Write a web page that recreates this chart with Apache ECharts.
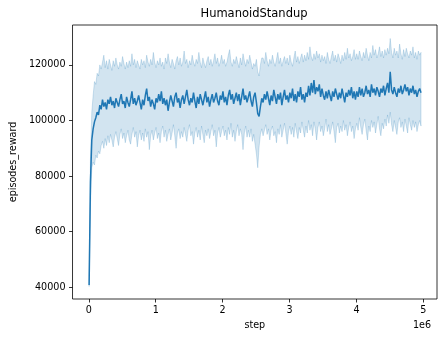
<!DOCTYPE html>
<html>
<head>
<meta charset="utf-8">
<script src="https://cdn.jsdelivr.net/npm/echarts@6/dist/echarts.min.js"></script>
<style>html,body{margin:0;padding:0;background:#fff}#c{width:441px;height:337px}</style>
</head>
<body>
<div id="c"></div>
<script>
// Sampling grid of logged steps
const STEP_START = 5000;
const STEP_SIZE = 20000;
const UNIT = 1000; // values below are in thousands of reward
const meanRewardK = [
40.8, 78.0, 93.0, 97.0, 99.5, 101.0, 103.0, 102.0, 105.5, 104.0,
107.5, 105.0, 106.5, 104.0, 107.5, 106.0, 108.5, 105.5, 107.0, 104.5,
108.0, 106.5, 105.0, 107.5, 109.5, 106.0, 107.0, 104.5, 108.5, 106.5,
105.0, 107.5, 110.5, 106.0, 108.0, 105.5, 107.0, 109.0, 106.5, 104.0,
107.5, 105.5, 109.0, 111.5, 107.0, 108.5, 105.0, 107.5, 106.0, 104.0,
108.0, 106.5, 109.5, 107.0, 110.5, 106.0, 108.0, 105.5, 107.5, 103.5,
106.5, 109.0, 107.0, 105.0, 108.5, 110.0, 106.5, 108.0, 104.5, 107.5,
109.0, 106.0, 108.5, 111.0, 107.5, 105.5, 108.0, 106.5, 110.0, 107.0,
104.5, 108.5, 106.0, 109.5, 107.5, 105.5, 108.0, 110.5, 106.5, 108.5,
105.0, 107.5, 109.5, 106.5, 108.0, 110.0, 107.0, 105.5, 109.0, 107.5,
110.5, 106.5, 108.5, 105.5, 109.0, 111.0, 107.5, 109.5, 106.0, 108.0,
110.0, 107.0, 109.5, 105.5, 108.5, 111.5, 107.5, 109.0, 106.5, 108.5,
110.5, 107.0, 105.0, 108.5, 110.0, 106.5, 102.5, 101.5, 105.0, 108.0,
106.5, 109.5, 107.5, 110.5, 108.0, 105.5, 109.0, 107.0, 111.0, 108.5,
106.0, 109.5, 107.5, 110.0, 105.5, 108.5, 111.0, 107.5, 109.0, 106.5,
110.0, 108.0, 111.5, 107.0, 109.5, 106.5, 110.5, 108.5, 112.0, 107.5,
109.5, 106.5, 110.0, 108.5, 112.5, 109.0, 113.5, 110.0, 114.5, 109.5,
112.0, 110.5, 113.0, 108.5, 111.5, 109.0, 107.5, 110.5, 108.0, 111.0,
109.0, 107.0, 110.5, 108.5, 111.5, 109.5, 107.5, 110.0, 108.0, 111.5,
109.0, 106.5, 110.0, 108.5, 111.0, 109.0, 112.0, 108.0, 110.5, 107.5,
110.5, 108.5, 112.0, 109.0, 111.5, 108.5, 110.0, 112.5, 109.5, 111.0,
108.5, 113.0, 110.0, 111.5, 109.0, 112.0, 110.5, 108.5, 111.5, 110.0,
112.5, 109.0, 111.5, 113.5, 110.0, 117.5, 111.0, 109.5, 112.0, 110.0,
108.5, 111.5, 110.0, 112.5, 109.5, 111.0, 113.0, 110.5, 112.0, 109.0,
111.5, 110.0, 112.5, 109.5, 111.0, 108.5, 110.5, 111.5, 110.0];
const upperRewardK = [
41.5, 86.0, 103.0, 109.0, 114.0, 113.0, 117.0, 116.0, 120.0, 118.5,
121.0, 123.5, 119.0, 121.5, 118.5, 122.0, 120.0, 118.0, 121.5, 119.5,
122.5, 120.0, 118.5, 121.0, 119.5, 123.0, 120.5, 118.5, 121.0, 119.0,
121.5, 119.5, 124.0, 120.0, 122.0, 119.0, 121.5, 120.0, 118.5, 122.0,
120.0, 121.5, 119.0, 123.5, 121.0, 119.5, 122.0, 120.0, 124.5, 121.0,
119.0, 121.5, 120.0, 122.5, 119.5, 121.0, 118.5, 122.5, 120.5, 124.0,
121.0, 119.0, 122.0, 120.5, 118.5, 121.5, 123.0, 120.0, 122.5, 119.5,
121.0, 125.0, 120.5, 122.0, 119.0, 121.5, 120.0, 123.5, 121.0, 119.5,
122.0, 120.5, 124.5, 121.0, 119.0, 122.5, 120.5, 119.0, 121.5, 123.0,
120.0, 122.0, 119.5, 121.5, 124.0, 120.5, 122.5, 119.5, 121.0, 123.5,
120.5, 122.0, 119.5, 121.0, 123.5, 125.5, 121.0, 119.5, 122.0, 120.5,
123.0, 121.0, 119.0, 122.5, 120.0, 124.0, 121.5, 119.5, 122.0, 120.5,
123.5, 121.0, 118.5, 120.5, 119.5, 122.0, 117.5, 116.0, 120.0, 122.5,
122.5, 120.5, 124.5, 121.5, 119.5, 122.0, 120.5, 123.5, 121.0, 119.5,
122.0, 124.5, 120.5, 122.5, 119.5, 121.5, 123.0, 120.5, 122.5, 120.0,
123.5, 121.0, 119.5, 122.5, 125.0, 121.0, 123.0, 120.5, 122.5, 124.0,
121.0, 123.5, 121.5, 124.5, 122.0, 126.5, 123.0, 121.5, 124.0, 122.0,
125.0, 122.5, 124.0, 121.0, 123.5, 121.5, 123.0, 120.5, 124.5, 122.0,
120.5, 123.0, 125.0, 121.5, 123.5, 121.0, 124.0, 122.5, 120.5, 123.5,
121.5, 124.5, 122.0, 126.0, 122.5, 124.0, 121.5, 123.0, 125.5, 122.0,
124.0, 122.0, 125.0, 123.0, 121.5, 124.5, 122.5, 126.0, 123.5, 121.5,
124.5, 122.5, 127.0, 123.5, 125.5, 122.5, 124.0, 126.5, 123.0, 125.0,
122.5, 125.5, 123.5, 126.0, 124.0, 129.5, 124.5, 122.5, 126.0, 123.5,
125.0, 122.5, 127.5, 124.0, 122.0, 125.5, 123.0, 126.0, 124.0, 122.5,
125.0, 123.5, 126.5, 122.5, 124.5, 122.0, 125.0, 123.5, 124.5];
const lowerRewardK = [
40.3, 70.0, 83.0, 85.0, 84.0, 87.5, 86.5, 89.0, 88.0, 91.0,
92.5, 90.0, 93.5, 91.0, 94.5, 92.0, 95.0, 93.0, 90.5, 94.0,
96.0, 93.5, 91.0, 95.0, 97.0, 93.5, 95.5, 92.0, 94.5, 96.5,
93.0, 91.5, 95.0, 97.5, 94.0, 96.0, 90.5, 94.5, 96.5, 93.0,
95.5, 92.5, 97.0, 94.0, 96.0, 89.5, 94.5, 96.5, 93.0, 95.5,
97.5, 93.5, 95.5, 92.0, 96.0, 98.0, 94.0, 96.5, 92.5, 95.0,
97.0, 93.0, 95.5, 98.5, 94.5, 90.0, 95.5, 97.0, 93.5, 96.0,
94.0, 97.5, 95.0, 92.5, 96.5, 98.5, 94.5, 96.0, 91.5, 95.5,
97.5, 94.0, 96.5, 93.0, 98.0, 95.0, 92.0, 96.5, 94.5, 97.0,
93.5, 96.0, 98.5, 94.5, 96.5, 90.5, 95.5, 97.5, 94.0, 96.0,
98.0, 94.5, 96.5, 93.0, 97.5, 95.0, 99.0, 94.0, 96.5, 92.5,
96.0, 98.5, 94.5, 97.0, 95.0, 89.5, 95.5, 98.0, 94.0, 96.5,
94.0, 97.0, 92.5, 95.0, 91.5, 88.0, 83.0, 90.5, 95.0, 97.0,
94.5, 96.5, 98.5, 95.0, 97.0, 93.0, 96.5, 98.0, 94.5, 96.0,
92.0, 97.0, 95.0, 98.5, 94.0, 96.5, 99.0, 95.5, 91.5, 96.0,
98.0, 95.0, 97.5, 94.0, 99.0, 96.0, 93.5, 97.5, 95.5, 99.5,
96.5, 94.0, 98.0, 95.5, 100.0, 96.5, 98.5, 94.5, 99.5, 97.0,
93.0, 97.5, 99.5, 96.0, 98.0, 94.5, 97.0, 100.5, 96.0, 98.5,
95.0, 97.0, 99.5, 96.0, 92.0, 97.5, 99.0, 95.5, 98.0, 96.0,
100.0, 96.5, 98.5, 94.5, 97.5, 99.5, 96.0, 98.0, 93.5, 97.0,
99.0, 96.5, 101.0, 97.5, 95.0, 98.5, 100.5, 96.5, 93.0, 98.0,
96.0, 100.0, 97.5, 99.5, 95.5, 98.5, 101.5, 97.0, 94.5, 99.0,
97.0, 100.5, 98.0, 102.0, 99.0, 103.0, 98.5, 96.0, 100.0, 97.5,
95.0, 99.5, 101.0, 97.5, 99.5, 96.0, 100.5, 98.0, 95.5, 101.0,
98.5, 96.5, 100.0, 97.5, 99.5, 96.0, 98.5, 100.0, 98.0];
const xTicks = [0, 1000000, 2000000, 3000000, 4000000, 5000000];
const yTicks = [40000, 60000, 80000, 100000, 120000];

const steps = meanRewardK.map((_, i) => STEP_START + i * STEP_SIZE);
const lineData = meanRewardK.map((v, i) => [steps[i], v * UNIT]);
const bandData = meanRewardK.map((_, i) => [steps[i], lowerRewardK[i] * UNIT, upperRewardK[i] * UNIT]);

const FONT = 'DejaVu Sans';
const chart = echarts.init(document.getElementById('c'), null, {renderer: 'canvas'});
chart.setOption({
  animation: false,
  backgroundColor: '#fff',
  title: {
    text: 'HumanoidStandup', left: 254, top: 8, textAlign: 'center', padding: 0,
    textStyle: {fontFamily: FONT, fontSize: 11.5, fontWeight: 'normal', color: '#000'}
  },
  grid: {left: 71, right: 4, top: 25, bottom: 38, show: true, borderColor: '#000', borderWidth: 0.8, backgroundColor: 'transparent'},
  xAxis: {
    type: 'value', min: -243000, max: 5204000,
    name: 'step', nameLocation: 'middle', nameGap: 21,
    nameTextStyle: {fontFamily: FONT, fontSize: 9.6, color: '#000'},
    axisLine: {show: false, onZero: false},
    splitLine: {show: false},
    axisTick: {show: true, length: 3.5, customValues: xTicks, lineStyle: {color: '#000', width: 0.8}},
    axisLabel: {customValues: xTicks, margin: 6, fontFamily: FONT, fontSize: 9.6, color: '#000',
      formatter: v => String(Math.round(v / 1e6))}
  },
  yAxis: {
    type: 'value', min: 35791, max: 134353,
    name: 'episodes_reward', nameLocation: 'middle', nameGap: 52,
    nameTextStyle: {fontFamily: FONT, fontSize: 9.6, color: '#000'},
    axisLine: {show: false, onZero: false},
    splitLine: {show: false},
    axisTick: {show: true, length: 3.5, customValues: yTicks, lineStyle: {color: '#000', width: 0.8}},
    axisLabel: {customValues: yTicks, margin: 7, fontFamily: FONT, fontSize: 9.6, color: '#000',
      formatter: v => String(v)}
  },
  graphic: [{
    type: 'text', right: 10, top: 320,
    style: {text: '1e6', fontFamily: FONT, fontSize: 9.6, fill: '#000'}
  }],
  series: [{
    type: 'custom',
    data: bandData,
    clip: true,
    z: 1,
    renderItem: function (params, api) {
      if (params.dataIndex !== 0) return null;
      const top = bandData.map(d => api.coord([d[0], d[2]]));
      const bot = bandData.map(d => api.coord([d[0], d[1]])).reverse();
      return {
        type: 'polygon',
        shape: {points: top.concat(bot)},
        style: {fill: 'rgba(31,119,180,0.2)', stroke: 'rgba(31,119,180,0.2)', lineWidth: 1}
      };
    },
    encode: {x: 0, y: [1, 2]}
  }, {
    type: 'line',
    data: lineData,
    showSymbol: false,
    z: 2,
    lineStyle: {color: '#1f77b4', width: 1.5},
    itemStyle: {color: '#1f77b4'}
  }]
});
</script>
</body>
</html>
